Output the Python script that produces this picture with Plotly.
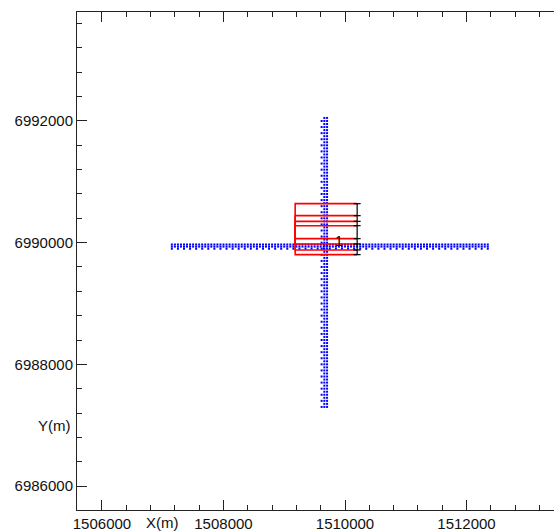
import plotly.graph_objects as go

# Receiver line running east-west (station easting, m) and its northing
ew_station_x = [
    1507150, 1507200, 1507250, 1507300, 1507350, 1507400, 1507450, 1507500, 1507550, 1507600,
    1507650, 1507700, 1507750, 1507800, 1507850, 1507900, 1507950, 1508000, 1508050, 1508100,
    1508150, 1508200, 1508250, 1508300, 1508350, 1508400, 1508450, 1508500, 1508550, 1508600,
    1508650, 1508700, 1508750, 1508800, 1508850, 1508900, 1508950, 1509000, 1509050, 1509100,
    1509150, 1509200, 1509250, 1509300, 1509350, 1509400, 1509450, 1509500, 1509550, 1509600,
    1509650, 1509700, 1509750, 1509800, 1509850, 1509900, 1509950, 1510000, 1510050, 1510100,
    1510150, 1510200, 1510250, 1510300, 1510350, 1510400, 1510450, 1510500, 1510550, 1510600,
    1510650, 1510700, 1510750, 1510800, 1510850, 1510900, 1510950, 1511000, 1511050, 1511100,
    1511150, 1511200, 1511250, 1511300, 1511350, 1511400, 1511450, 1511500, 1511550, 1511600,
    1511650, 1511700, 1511750, 1511800, 1511850, 1511900, 1511950, 1512000, 1512050, 1512100,
    1512150, 1512200, 1512250, 1512300, 1512350,
]
ew_line_y = 6989935
ew_row_offsets = [-35, 0, 35]          # receiver rows across the line (m)

# Receiver line running north-south (station northing, m) and its easting
ns_station_y = [
    6987300, 6987350, 6987400, 6987450, 6987500, 6987550, 6987600, 6987650, 6987700, 6987750,
    6987800, 6987850, 6987900, 6987950, 6988000, 6988050, 6988100, 6988150, 6988200, 6988250,
    6988300, 6988350, 6988400, 6988450, 6988500, 6988550, 6988600, 6988650, 6988700, 6988750,
    6988800, 6988850, 6988900, 6988950, 6989000, 6989050, 6989100, 6989150, 6989200, 6989250,
    6989300, 6989350, 6989400, 6989450, 6989500, 6989550, 6989600, 6989650, 6989700, 6989750,
    6989800, 6989850, 6989900, 6989950, 6990000, 6990050, 6990100, 6990150, 6990200, 6990250,
    6990300, 6990350, 6990400, 6990450, 6990500, 6990550, 6990600, 6990650, 6990700, 6990750,
    6990800, 6990850, 6990900, 6990950, 6991000, 6991050, 6991100, 6991150, 6991200, 6991250,
    6991300, 6991350, 6991400, 6991450, 6991500, 6991550, 6991600, 6991650, 6991700, 6991750,
    6991800, 6991850, 6991900, 6991950, 6992000, 6992050,
]
ns_line_x = 1509660
ns_col_offsets = [-45, 0, 45]          # receiver columns across the line (m)

# Source patch outlines: common west/east edges, nested south/north edges
patch_west = 1509180
patch_east = 1510200
patch_south = [6989803, 6989880, 6989979, 6990066]
patch_north = [6990641, 6990444, 6990350, 6990279]
patch_label = "1"
patch_label_xy = (1509905, 6990035)

# Axis ticks and labels
x_ticks = [1506000, 1508000, 1510000, 1512000]
y_ticks = [6986000, 6988000, 6990000, 6992000]
x_title, x_title_at = "X(m)", 1507000
y_title, y_title_at = "Y(m)", 6987000
x_range = [1505589, 1513440]
y_range = [6985606, 6993791]

FONT = "Liberation Sans, Arial, sans-serif"
FSIZE = 15
BLUE = "#0000ff"
RED = "#ff0000"


def dots(x, y):
    return go.Scatter(
        x=x, y=y, mode="markers",
        marker=dict(symbol="square", size=2, color=BLUE, line=dict(width=0)),
        hoverinfo="skip", showlegend=False)


fig = go.Figure()

# east-west receiver rows: centre row at every station, outer rows every second one
top_off, mid_off, bot_off = ew_row_offsets
fig.add_trace(dots(ew_station_x, [ew_line_y + mid_off] * len(ew_station_x)))
fig.add_trace(dots(ew_station_x[::2], [ew_line_y + top_off] * len(ew_station_x[::2])))
fig.add_trace(dots(ew_station_x, [ew_line_y + bot_off] * len(ew_station_x)))

# north-south receiver columns
west_off, mid_off, east_off = ns_col_offsets
fig.add_trace(dots([ns_line_x + mid_off] * len(ns_station_y), ns_station_y))
fig.add_trace(dots([ns_line_x + west_off] * len(ns_station_y[::2]), ns_station_y[::2]))
fig.add_trace(dots([ns_line_x + east_off] * len(ns_station_y), ns_station_y))

# source patch outlines
for s, n in zip(patch_south, patch_north):
    fig.add_trace(go.Scatter(
        x=[patch_east, patch_west, patch_west, patch_east],
        y=[s, s, n, n],
        mode="lines", line=dict(color=RED, width=1.6),
        hoverinfo="skip", showlegend=False))

# east edge of the patches with end marks
edge_y = sorted(patch_south + patch_north)
fig.add_trace(go.Scatter(
    x=[patch_east] * len(edge_y), y=edge_y,
    mode="lines+markers",
    line=dict(color="black", width=1.2),
    marker=dict(symbol="line-ew", size=5, color="black", line=dict(width=1.2, color="black")),
    hoverinfo="skip", showlegend=False))

fig.add_annotation(x=patch_label_xy[0], y=patch_label_xy[1], text=patch_label,
                   showarrow=False, font=dict(family=FONT, size=14, color="black"))

# axis captions sitting among the tick labels
fig.add_annotation(x=x_title_at, xref="x", y=0, yref="paper", yanchor="top", yshift=-2,
                   text=x_title, showarrow=False,
                   font=dict(family=FONT, size=FSIZE, color="#111"))
fig.add_annotation(x=0, xref="paper", y=y_title_at, yref="y", xanchor="right", xshift=-4,
                   text=y_title, showarrow=False,
                   font=dict(family=FONT, size=FSIZE, color="#111"))

axis_common = dict(
    showgrid=False, zeroline=False, showline=True, linecolor="#222", linewidth=1,
    ticks="inside", ticklen=10, tickwidth=1, tickcolor="#222",
    tickformat="d", tickfont=dict(family=FONT, size=FSIZE, color="#111"),
)
fig.update_xaxes(range=x_range, tickvals=x_ticks, mirror="allticks",
                 minor=dict(dtick=400, tick0=1506000, ticks="inside", ticklen=5,
                            tickcolor="#222", tickwidth=1),
                 **axis_common)
fig.update_yaxes(range=y_range, tickvals=y_ticks, mirror=False, ticklabelstandoff=0,
                 minor=dict(dtick=400, tick0=6986000, ticks="inside", ticklen=5,
                            tickcolor="#222", tickwidth=1),
                 **axis_common)

fig.update_layout(
    width=554, height=532,
    margin=dict(l=77, r=0, t=12, b=22),
    paper_bgcolor="white", plot_bgcolor="white",
    showlegend=False,
)

fig.write_html("out.html")
